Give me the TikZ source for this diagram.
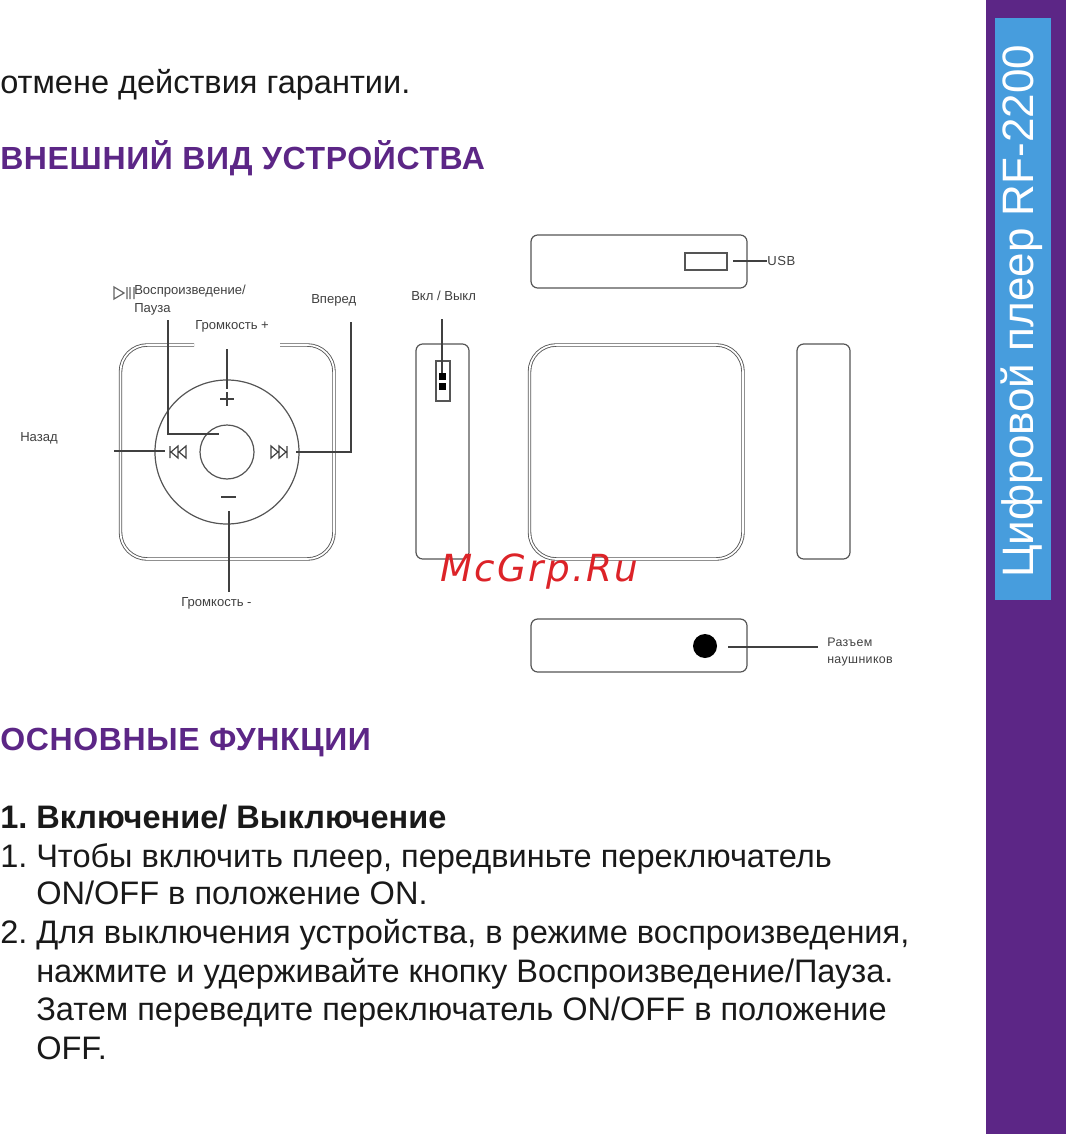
\documentclass[tikz,border=0pt]{standalone}
\usepackage{fontspec}
\setmainfont{Liberation Sans}
\newfontfamily\markfont{DejaVu Sans}
\definecolor{PlayerPurple}{HTML}{5C2686}
\definecolor{PlayerBlue}{HTML}{479DDD}
\definecolor{PlayerLine}{HTML}{555555}
\definecolor{MarkRed}{HTML}{DC2328}
\newcommand*\pxl{0.75pt}
\usetikzlibrary{calc,positioning}
\tikzset{
	textline/.style={anchor=base west, inner sep=0pt, text=black!90, font=\fontsize{24.4}{28}\selectfont},
	heading/.style={textline, text=PlayerPurple, font=\fontsize{24}{28}\selectfont\bfseries\addfontfeature{LetterSpace=2}},
	subhead/.style={textline, font=\fontsize{24.4}{28}\selectfont\bfseries},
	tag/.style={anchor=base west, inner sep=0pt, text=black!75, font=\fontsize{9.8}{11}\selectfont},
	callout/.style={draw=black!75, line width=0.9pt},
	outline/.style={draw=PlayerLine, line width=0.9pt},
	doubleline/.style={draw=PlayerLine, line width=0.65pt, double=white, double distance=1.3pt, rounded corners=20pt},
	sidebox/.style={rectangle, outline, rounded corners=5pt, inner sep=0pt, minimum width=#1*\pxl},
	wheel/.style={circle, outline, inner sep=0pt, minimum size=#1*\pxl},
	glyph/.style={draw=black!75, line width=0.9pt},
}
\begin{document}
\begin{tikzpicture}[x=0.75pt, y=-0.75pt]
\useasboundingbox (0,0) rectangle (1066,1134);

% side band
\fill[PlayerPurple] (986,0) rectangle (1066,1134);
\fill[PlayerBlue] (995,18) rectangle (1051,600);
\node[rotate=90, anchor=base west, inner sep=0pt, text=white, font=\fontsize{33}{38}\selectfont] (title) at (1033,578) {Цифровой плеер RF-2200};

% page text
\node[textline] (warranty) at (0,94) {отмене действия гарантии.};
\node[heading] (looks) at (0,170) {ВНЕШНИЙ ВИД УСТРОЙСТВА};
\node[heading] (functions) at (0,750.5) {ОСНОВНЫЕ ФУНКЦИИ};
\node[subhead] (powernum) at (0,828) {1.};
\node[subhead] (power) at (36,828) {Включение/ Выключение};
\node[textline] (numa) at (0,867) {1.};
\node[textline] (linea) at (36,867) {Чтобы включить плеер, передвиньте переключатель};
\node[textline] (lineb) at (36,904) {ON/OFF в положение ON.};
\node[textline] (numb) at (0,943) {2.};
\node[textline] (linec) at (36,943) {Для выключения устройства, в режиме воспроизведения,};
\node[textline] (lined) at (36,982) {нажмите и удерживайте кнопку Воспроизведение/Пауза.};
\node[textline] (linee) at (36,1020) {Затем переведите переключатель ON/OFF в положение};
\node[textline] (linef) at (36,1059) {OFF.};

% front view
\draw[doubleline] (194,345) -- (120.5,345) -- (120.5,559) -- (334,559) -- (334,345) -- (280,345);
\node[wheel=144] (ring) at (227,452) {};
\node[wheel=54] (hub) at (227,452) {};

\node[tag] (playlab) at (134,294) {Воспроизведение/};
\node[tag] (pauselab) at (134,312) {Пауза};
\node[tag] (uplab) at (195,329) {Громкость +};
\node[tag] (nextlab) at (311,303) {Вперед};
\node[tag] (backlab) at (20,441) {Назад};
\node[tag] (downlab) at (181,606) {Громкость -};

\coordinate (playtop) at (168,320);
\coordinate (playend) at (219,434);
\coordinate (uptop) at (227,349);
\coordinate (upend) at (227,389);
\coordinate (downtop) at (229,511);
\coordinate (downend) at (229,592);
\coordinate (backtop) at (114,451);
\coordinate (backend) at (165,451);
\coordinate (nexttop) at (351,322);
\coordinate (nextend) at (296,452);
\draw[callout] (playtop) |- (playend);
\draw[callout] (uptop) -- (upend);
\draw[callout] (downtop) -- (downend);
\draw[callout] (backtop) -- (backend);
\draw[callout] (nexttop) |- (nextend);

% button marks
\draw[glyph] (220,399) -- (234,399) (227,392) -- (227,406);
\draw[glyph] (221,497) -- (236,497);
\draw[glyph] (170,446) -- (170,458) (178,446) -- (171,452) -- (178,458) -- cycle (186,446) -- (179,452) -- (186,458) -- cycle;
\draw[glyph] (287,446) -- (287,458) (279,446) -- (286,452) -- (279,458) -- cycle (271,446) -- (278,452) -- (271,458) -- cycle;
\draw[glyph, black!60] (114,287) -- (124,293) -- (114,299) -- cycle (127,287) -- (127,299) (130,287) -- (130,299) (134,287) -- (134,299);

% side views
\node[sidebox=216, minimum height=53*\pxl] (topview) at (639,261.5) {};
\node[sidebox=216, minimum height=53*\pxl] (bottomview) at (639,645.5) {};
\node[sidebox=53, minimum height=215*\pxl] (leftview) at (442.5,451.5) {};
\node[sidebox=53, minimum height=215*\pxl] (rightview) at (823.5,451.5) {};
\draw[doubleline] (529.5,345) rectangle (743,559);

% usb port
\node[outline, rectangle, inner sep=0pt, minimum width=42*\pxl, minimum height=17*\pxl] (usbport) at (706,261.5) {};
\node[tag, anchor=west, font=\fontsize{9.8}{11}\selectfont\addfontfeature{LetterSpace=5}] (usblab) at (767,261) {USB};
\coordinate (usbend) at (733,261);
\draw[callout] (usbend) -- (usblab.west);

% power switch
\node[outline, rectangle, inner sep=0pt, minimum width=14*\pxl, minimum height=40*\pxl] (switch) at (443,381) {};
\node[fill=black, inner sep=0pt, minimum size=7*\pxl] (knoba) at (442.5,376.5) {};
\node[fill=black, inner sep=0pt, minimum size=7*\pxl] (knobb) at (442.5,386) {};
\node[tag] (powerlab) at (411,300) {Вкл / Выкл};
\coordinate (powertop) at (442,319);
\draw[callout] (powertop) -- (knoba.north -| powertop);

% phone jack
\node[circle, fill=black, inner sep=0pt, minimum size=24*\pxl] (jack) at (705,646) {};
\node[tag, font=\fontsize{9.3}{11}\selectfont\addfontfeature{LetterSpace=3}] (jacklab) at (827,646) {Разъем};
\node[tag, font=\fontsize{9.3}{11}\selectfont\addfontfeature{LetterSpace=3}] (jacklabb) at (827,663) {наушников};
\coordinate (jackend) at (728,647);
\coordinate (jacktop) at (818,647);
\draw[callout] (jackend) -- (jacktop);

% watermark
\node[anchor=base west, inner sep=0pt, text=MarkRed, font=\fontsize{28}{31}\markfont\itshape\addfontfeature{LetterSpace=6}] (mark) at (440,581) {McGrp.Ru};
\end{tikzpicture}
\end{document}
